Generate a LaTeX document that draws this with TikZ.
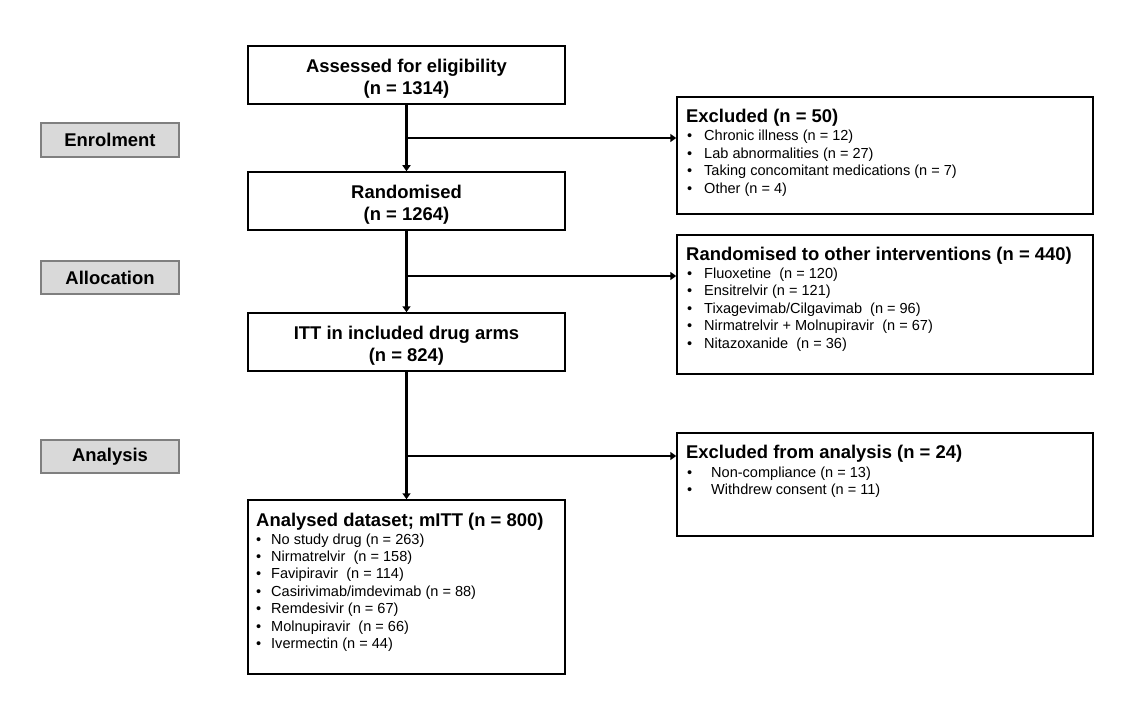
\documentclass[tikz,border=0pt]{standalone}
\usepackage{fontspec}
\setmainfont{Liberation Sans}
\usetikzlibrary{arrows.meta}
\definecolor{phasefill}{HTML}{D9D9D9}
\definecolor{phaseline}{HTML}{7F7F7F}
\newcommand{\bul}[2][17bp]{\makebox[#1][l]{\textbullet}#2}
\tikzset{
  mainbox/.style={draw=black, line width=1.5bp, fill=white, inner sep=0pt,
    minimum width=317bp, minimum height=58bp},
  titletxt/.style={align=center, inner sep=0pt, font=\fontsize{18.5}{22}\selectfont\bfseries},
  sidebox/.style={draw=black, line width=1.5bp, fill=white, inner sep=0pt, minimum width=416bp},
  phase/.style={draw=phaseline, line width=1.5bp, fill=phasefill, inner sep=0pt,
    minimum width=138bp, font=\fontsize{18.5}{20}\selectfont\bfseries},
  head/.style={anchor=base west, inner sep=0pt, font=\fontsize{18.5}{20}\selectfont\bfseries},
  listtxt/.style={anchor=base west, inner sep=0pt, font=\fontsize{14.6}{17.5}\selectfont},
  conn/.style={line width=2.4bp, -{Triangle[length=6bp,width=8bp]}},
}
\begin{document}
\begin{tikzpicture}[x=1bp,y=-1bp]
\useasboundingbox (0,0) rectangle (1134,720);
\fill[white] (0,0) rectangle (1134,720);

% phase labels
\node[phase, minimum height=34bp] (enrol) at (110,140) {Enrolment};
\node[phase, minimum height=33bp] (alloc) at (110,277.5) {Allocation};
\node[phase, minimum height=33bp] (anal) at (110,456.5) {Analysis};

% main column
\node[mainbox] (assess) at (406.5,75) {};
\node[titletxt] (assesst) at (406.5,78.5) {Assessed for eligibility\\(n = 1314)};
\node[mainbox] (rand) at (406.5,201) {};
\node[titletxt] (randt) at (406.5,204.5) {Randomised\\(n = 1264)};
\node[mainbox] (itt) at (406.5,342) {};
\node[titletxt] (ittt) at (406.5,345.5) {ITT in included drug arms\\(n = 824)};
\node[sidebox, minimum width=317bp, minimum height=174bp] (mitt) at (406.5,587) {};
\node[head] (mitth) at (256,526.5) {Analysed dataset; mITT (n = 800)};
\node[listtxt] (mittl) at (256,544) {\parbox[t]{300bp}{%
\bul[15bp]{No study drug (n = 263)}\\
\bul[15bp]{Nirmatrelvir\ \ (n = 158)}\\
\bul[15bp]{Favipiravir\ \ (n = 114)}\\
\bul[15bp]{Casirivimab/imdevimab (n = 88)}\\
\bul[15bp]{Remdesivir (n = 67)}\\
\bul[15bp]{Molnupiravir\ \ (n = 66)}\\
\bul[15bp]{Ivermectin (n = 44)}}};

% side boxes
\node[sidebox, minimum height=117bp] (excl) at (885,155.5) {};
\node[head] (exclh) at (686,122.5) {Excluded (n = 50)};
\node[listtxt] (excll) at (687,141) {\parbox[t]{400bp}{%
\bul{Chronic illness (n = 12)}\\
\bul{Lab abnormalities (n = 27)}\\
\bul{Taking concomitant medications (n = 7)}\\
\bul{Other (n = 4)}}};

\node[sidebox, minimum height=139bp] (other) at (885,304.5) {};
\node[head] (otherh) at (686,260.5) {Randomised to other interventions (n = 440)};
\node[listtxt] (otherl) at (687,278.5) {\parbox[t]{400bp}{%
\bul{Fluoxetine\ \ (n = 120)}\\
\bul{Ensitrelvir (n = 121)}\\
\bul{Tixagevimab/Cilgavimab\ \ (n = 96)}\\
\bul{Nirmatrelvir + Molnupiravir\ \ (n = 67)}\\
\bul{Nitazoxanide\ \ (n = 36)}}};

\node[sidebox, minimum height=103bp] (exana) at (885,484.5) {};
\node[head] (exanah) at (686,458.5) {Excluded from analysis (n = 24)};
\node[listtxt] (exanal) at (687,477) {\parbox[t]{400bp}{%
\bul[24bp]{Non-compliance (n = 13)}\\
\bul[24bp]{Withdrew consent (n = 11)}}};

% connectors
\coordinate (b1) at (406.5,138);
\coordinate (b2) at (406.5,276);
\coordinate (b3) at (406.5,456);
\draw[conn] (assess.south) -- (rand.north);
\draw[conn] (rand.south) -- (itt.north);
\draw[conn] (itt.south) -- (mitt.north);
\draw[conn] (b1) -- (b1 -| excl.west);
\draw[conn] (b2) -- (b2 -| other.west);
\draw[conn] (b3) -- (b3 -| exana.west);
\end{tikzpicture}
\end{document}
